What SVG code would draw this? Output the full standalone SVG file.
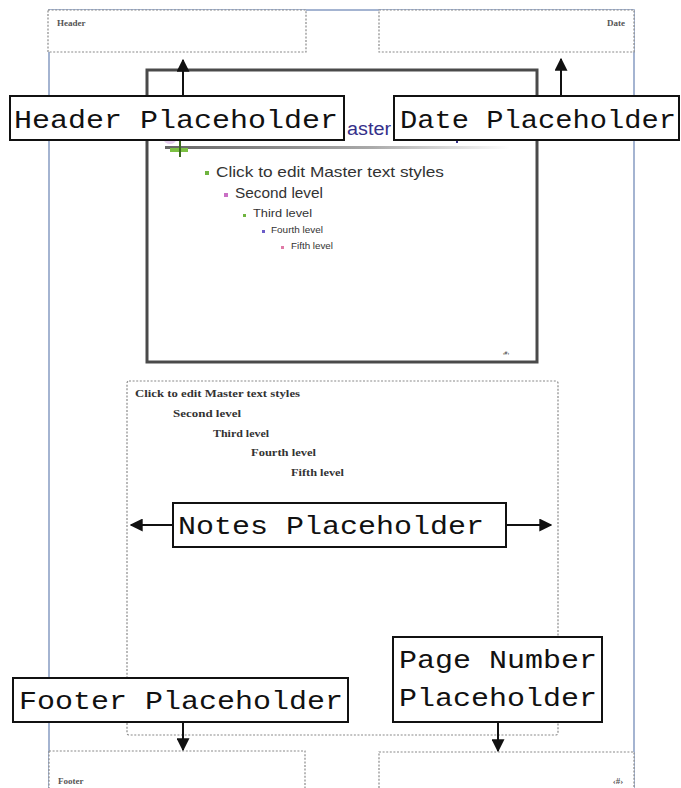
<svg xmlns="http://www.w3.org/2000/svg" width="681" height="788" viewBox="0 0 681 788">
<style>
.page{fill:none;stroke:#8ea2c6;stroke-width:1.6}
.dash{fill:#fff;stroke:#8a8a8a;stroke-width:1.2;stroke-dasharray:2 1.6}
.lbl{fill:#fff;stroke:#111;stroke-width:2}
.lt{font-family:"Liberation Mono","Courier New",monospace;font-size:26px;fill:#111}
.small{font-family:"Liberation Serif","Times New Roman",serif;font-size:9px;font-weight:bold;fill:#555}
.notes{font-family:"Liberation Serif","Times New Roman",serif;font-size:10.5px;font-weight:bold;fill:#333}
.st{font-family:"Liberation Sans",Arial,sans-serif;fill:#333}
.conn{stroke:#111;stroke-width:2;fill:none;marker-end:url(#ah)}
</style>
<defs>
<marker id="ah" viewBox="0 0 10 10" refX="9" refY="5" markerWidth="13" markerHeight="13" markerUnits="userSpaceOnUse" orient="auto"><path d="M0,0 L10,5 L0,10 z" fill="#111"/></marker>
<linearGradient id="rule" x1="0" x2="1" y1="0" y2="0"><stop offset="0" stop-color="#666"/><stop offset="0.6" stop-color="#aaa"/><stop offset="1" stop-color="#fff"/></linearGradient>
</defs>
<rect width="681" height="788" fill="#fff"/>
<rect class="page" x="49" y="10" width="585" height="800"/>
<g id="header-ph"><rect class="dash" x="48" y="10" width="258" height="42"/><text class="small" x="57" y="26">Header</text></g>
<g id="date-ph"><rect class="dash" x="379" y="10" width="255" height="42"/><text class="small" x="625" y="26" text-anchor="end">Date</text></g>
<g id="slide">
<rect x="147" y="70" width="390" height="292" fill="#fff" stroke="#4a4a4a" stroke-width="3"/>
<text x="347" y="135" font-family="'Liberation Sans',Arial,sans-serif" font-size="18" fill="#35308a" textLength="44" lengthAdjust="spacingAndGlyphs">aster</text>
<rect x="456" y="140" width="2" height="3" fill="#35308a"/>
<rect x="165" y="146" width="345" height="3" fill="url(#rule)"/>
<ellipse cx="170" cy="140" rx="6" ry="4" fill="#d9b8e6" opacity="0.7"/>
<rect x="170" y="148" width="18" height="4" fill="#7cc144"/>
<rect x="179" y="141" width="2" height="16" fill="#3d6b1f"/>
<rect x="205" y="171" width="4" height="4" fill="#6fb43f"/>
<text class="st" x="216" y="177" font-size="15" textLength="228" lengthAdjust="spacingAndGlyphs">Click to edit Master text styles</text>
<rect x="224" y="193" width="4" height="4" fill="#c96fc4"/>
<text class="st" x="235" y="198" font-size="14" textLength="88" lengthAdjust="spacingAndGlyphs">Second level</text>
<rect x="243" y="214" width="3" height="3" fill="#6fb43f"/>
<text class="st" x="253" y="217" font-size="10.5" textLength="59" lengthAdjust="spacingAndGlyphs">Third level</text>
<rect x="262" y="230" width="3" height="3" fill="#6b5cc8"/>
<text class="st" x="271" y="233" font-size="8.5" textLength="52" lengthAdjust="spacingAndGlyphs">Fourth level</text>
<rect x="281" y="246" width="3" height="3" fill="#e07aa6"/>
<text class="st" x="291" y="249" font-size="8.5" textLength="42" lengthAdjust="spacingAndGlyphs">Fifth level</text>
<text class="st" x="506" y="355" font-size="5" fill="#999" text-anchor="middle">‹#›</text>
</g>
<g id="notes-ph">
<rect class="dash" x="127" y="381" width="431" height="354" rx="2"/>
<text class="notes" x="135" y="397" textLength="165" lengthAdjust="spacingAndGlyphs">Click to edit Master text styles</text>
<text class="notes" x="173" y="417" textLength="68" lengthAdjust="spacingAndGlyphs">Second level</text>
<text class="notes" x="213" y="437" textLength="56" lengthAdjust="spacingAndGlyphs">Third level</text>
<text class="notes" x="251" y="456" textLength="65" lengthAdjust="spacingAndGlyphs">Fourth level</text>
<text class="notes" x="291" y="476" textLength="53" lengthAdjust="spacingAndGlyphs">Fifth level</text>
</g>
<g id="footer-ph"><rect class="dash" x="49" y="751" width="256" height="60"/><text class="small" x="58" y="784">Footer</text></g>
<g id="pagenum-ph"><rect class="dash" x="379" y="752" width="255" height="60"/><text class="small" x="618" y="784" font-size="6" text-anchor="middle">‹#›</text></g>
<g id="connectors">
<line class="conn" x1="183" y1="96" x2="183" y2="60"/>
<line class="conn" x1="561" y1="96" x2="561" y2="59"/>
<line class="conn" x1="173" y1="525" x2="131" y2="525"/>
<line class="conn" x1="506" y1="525" x2="551" y2="525"/>
<line class="conn" x1="183" y1="722" x2="183" y2="750"/>
<line class="conn" x1="498" y1="722" x2="498" y2="751"/>
</g>
<g id="label-header"><rect class="lbl" x="10" y="96" width="334" height="44"/><text class="lt" x="14" y="128" textLength="324" lengthAdjust="spacingAndGlyphs">Header Placeholder</text></g>
<g id="label-date"><rect class="lbl" x="394" y="96" width="285" height="44"/><text class="lt" x="400" y="128" textLength="276" lengthAdjust="spacingAndGlyphs">Date Placeholder</text></g>
<g id="label-notes"><rect class="lbl" x="173" y="503" width="333" height="44"/><text class="lt" x="178" y="534" textLength="306" lengthAdjust="spacingAndGlyphs">Notes Placeholder</text></g>
<g id="label-footer"><rect class="lbl" x="13" y="678" width="335" height="44"/><text class="lt" x="19" y="709" textLength="324" lengthAdjust="spacingAndGlyphs">Footer Placeholder</text></g>
<g id="label-pagenum"><rect class="lbl" x="393" y="637" width="209" height="85"/><text class="lt" x="399" y="668" textLength="198" lengthAdjust="spacingAndGlyphs">Page Number</text><text class="lt" x="399" y="706" textLength="198" lengthAdjust="spacingAndGlyphs">Placeholder</text></g>
</svg>
